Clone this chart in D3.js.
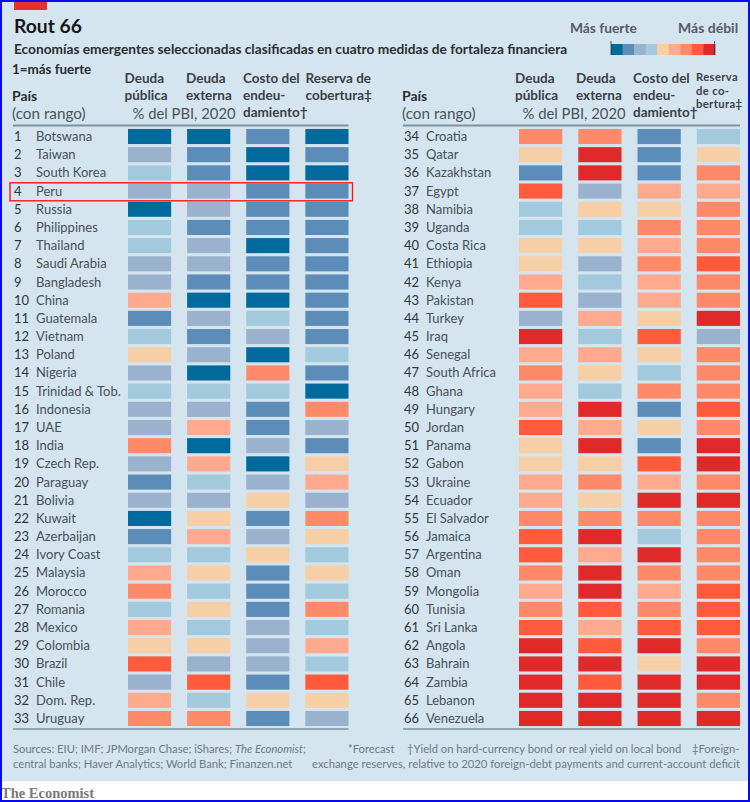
<!DOCTYPE html>
<html>
<head>
<meta charset="utf-8">
<script src="https://cdn.jsdelivr.net/npm/d3@7"></script>
<style>
  html, body { margin: 0; padding: 0; background: #fff; }
  svg { display: block; }
  text { font-family: Lato, "Open Sans", sans-serif; }
</style>
</head>
<body>
<svg id="chart" width="750" height="802"></svg>
<script>
const countriesLeft = ["Botswana","Taiwan","South Korea","Peru","Russia","Philippines","Thailand","Saudi Arabia","Bangladesh","China","Guatemala","Vietnam","Poland","Nigeria","Trinidad & Tob.","Indonesia","UAE","India","Czech Rep.","Paraguay","Bolivia","Kuwait","Azerbaijan","Ivory Coast","Malaysia","Morocco","Romania","Mexico","Colombia","Brazil","Chile","Dom. Rep.","Uruguay"];
const countriesRight = ["Croatia","Qatar","Kazakhstan","Egypt","Namibia","Uganda","Costa Rica","Ethiopia","Kenya","Pakistan","Turkey","Iraq","Senegal","South Africa","Ghana","Hungary","Jordan","Panama","Gabon","Ukraine","Ecuador","El Salvador","Jamaica","Argentina","Oman","Mongolia","Tunisia","Sri Lanka","Angola","Bahrain","Zambia","Lebanon","Venezuela"];

// score bands, 1 = strongest ... 9 = weakest
const deudaPublica = [1,3,4,3,1,4,4,3,3,6,2,4,5,3,4,3,3,7,3,2,3,1,2,4,6,7,4,6,5,8,3,6,7, 7,5,2,8,4,4,5,5,6,8,3,9,6,7,6,6,8,5,5,6,6,7,8,8,7,6,7,8,9,9,9,9,9];
const deudaExterna = [1,2,2,3,3,2,3,3,2,1,3,2,3,1,4,3,6,1,6,4,3,5,6,4,5,4,5,4,5,3,8,4,7, 7,9,9,3,5,4,5,3,4,3,6,4,6,5,4,9,6,9,5,7,5,7,9,6,9,9,8,6,8,9,8,9,9];
const costo = [2,1,1,2,2,2,1,2,2,1,4,3,1,7,4,2,2,3,1,3,5,2,3,5,2,2,2,3,3,3,2,5,2, 2,2,2,6,5,7,6,7,6,6,5,8,5,4,7,2,5,2,8,6,9,7,4,9,7,6,7,8,9,5,9,9,9];
const reserva = [1,2,1,2,2,2,2,2,2,2,2,2,4,2,1,7,3,2,5,6,3,7,5,4,5,4,7,4,6,4,8,5,3, 4,5,7,6,7,7,7,8,7,7,9,3,7,7,7,8,7,9,9,7,9,7,7,7,7,8,8,8,7,9,9,7,9];

const bandColors = ["#016a9c","#5b8db8","#9ab2cd","#a3c9dc","#f6cfa6","#ffa98f","#ff8a69","#fe5a3a","#e02c2c"];
const seriesValues = [deudaPublica, deudaExterna, costo, reserva];

const svg = d3.select("#chart");

// the source is a soft screenshot, so cells get a slight blur
svg.append("defs").append("filter").attr("id", "soft")
  .attr("x", "-5%").attr("y", "-5%").attr("width", "110%").attr("height", "110%")
  .append("feGaussianBlur").attr("stdDeviation", 0.5);

// page background, then the footer strip and frame
svg.append("rect").attr("width", 750).attr("height", 802).attr("fill", "#ffffff");
svg.append("rect").attr("width", 750).attr("height", 781).attr("fill", "#d5e5ef");
svg.append("rect").attr("x", 14).attr("y", 2).attr("width", 33).attr("height", 8).attr("fill", "#e8312f");

const text = (x, y, str, size, opts = {}) => svg.append("text")
  .attr("x", x).attr("y", y)
  .attr("font-size", size)
  .attr("font-weight", opts.weight || "normal")
  .attr("font-style", opts.style || "normal")
  .attr("text-anchor", opts.anchor || "start")
  .attr("fill", opts.fill || "#33393d")
  .text(str);

text(14, 33, "Rout 66", 19.3, { weight: "bold", fill: "#16181a" });
text(14, 54, "Economías emergentes seleccionadas clasificadas en cuatro medidas de fortaleza financiera", 13.7, { weight: "bold", fill: "#2a2e31" });
text(12, 74, "1=más fuerte", 13.4, { weight: "bold", fill: "#2a2e31" });

// legend
const legendX = d3.scaleBand().domain(d3.range(bandColors.length)).range([611, 715]);
svg.append("g").attr("filter", "url(#soft)")
  .selectAll("rect").data(bandColors).join("rect")
  .attr("x", (d, i) => legendX(i))
  .attr("y", 44).attr("width", legendX.bandwidth() + 0.5).attr("height", 11)
  .attr("fill", d => d);
svg.append("path").attr("d", "M611 41V55M714.5 41V55").attr("stroke", "#33393d").attr("stroke-width", 0.8);
text(570, 33, "Más fuerte", 13.8, { weight: "bold", fill: "#555b60" });
text(678, 33, "Más débil", 14, { weight: "bold", fill: "#555b60" });

const rowY = d3.scaleBand()
  .domain(d3.range(33))
  .range([127.5, 727.5])
  .paddingInner(0.17)
  .paddingOuter(0.08);

function panel(countries, offset, xLeft, colRange, rankX, nameX) {
  const colX = d3.scaleBand().domain(d3.range(4)).range(colRange).paddingInner(0.27);
  const g = svg.append("g");

  g.append("line").attr("x1", xLeft).attr("x2", colRange[1]).attr("y1", 125.5).attr("y2", 125.5)
    .attr("stroke", "#7f929f").attr("stroke-width", 2);
  g.append("line").attr("x1", xLeft).attr("x2", colRange[1]).attr("y1", 729).attr("y2", 729)
    .attr("stroke", "#7f929f").attr("stroke-width", 1.5);

  const cells = g.append("g").attr("filter", "url(#soft)");
  seriesValues.forEach((vals, c) => {
    cells.selectAll(null).data(countries).join("rect")
      .attr("x", colX(c))
      .attr("y", (d, i) => rowY(i))
      .attr("width", colX.bandwidth())
      .attr("height", rowY.bandwidth())
      .attr("fill", (d, i) => bandColors[vals[i + offset] - 1]);
  });

  g.selectAll(null).data(countries).join("text")
    .attr("x", rankX)
    .attr("y", (d, i) => rowY(i) + rowY.bandwidth() / 2 + 4.5)
    .attr("font-size", 13).attr("fill", "#2f3639")
    .text((d, i) => i + offset + 1);
  g.selectAll(null).data(countries).join("text")
    .attr("x", nameX)
    .attr("y", (d, i) => rowY(i) + rowY.bandwidth() / 2 + 4.5)
    .attr("font-size", 13).attr("fill", "#465055")
    .text(d => d);
}

panel(countriesLeft, 0, 13, [128, 348.5], 14, 36);
panel(countriesRight, 33, 403, [519, 740], 404, 426);

// column headers
const hdr = { weight: "bold", fill: "#3a4045" };
const headerLines = [
  [124.5, ["Deuda", "pública"]],
  [186, ["Deuda", "externa"]],
  [243, ["Costo del", "endeu-", "damiento†"]],
  [305.5, ["Reserva de", "cobertura‡"]],
  [515, ["Deuda", "pública"]],
  [576, ["Deuda", "externa"]],
  [633, ["Costo del", "endeu-", "damiento†"]]
];
headerLines.forEach(([x, lines]) => {
  lines.forEach((line, i) => text(x, 83 + i * 17, line, 13.5, hdr));
});
text(696, 81, "Reserva", 11.2, hdr).attr("letter-spacing", 0.4);
text(696, 94.5, "de co-", 11.2, hdr).attr("letter-spacing", 0.4);
text(696, 108, "bertura‡", 11.2, hdr).attr("letter-spacing", 0.4);

text(12, 101, "País", 14, { weight: "bold", fill: "#2a2e31" });
text(12, 119, "(con rango)", 15.3, { fill: "#4a5358" });
text(132.5, 119, "% del PBI, 2020", 14.8, { fill: "#4a5358" });
text(402, 101, "País", 14, { weight: "bold", fill: "#2a2e31" });
text(402, 119, "(con rango)", 15.3, { fill: "#4a5358" });
text(522.5, 119, "% del PBI, 2020", 14.8, { fill: "#4a5358" });

// highlight around Peru
svg.append("rect")
  .attr("x", 10).attr("y", 182.8).attr("width", 342.5).attr("height", 18)
  .attr("fill", "none").attr("stroke", "#fa141c").attr("stroke-width", 1.4);

// footnotes
const note = { fill: "#6b7a84" };
const s1 = text(13, 753, "Sources: EIU; IMF; JPMorgan Chase; iShares; ", 11.2, note);
s1.append("tspan").attr("font-style", "italic").text("The Economist");
s1.append("tspan").text(";");
text(13, 768, "central banks; Haver Analytics; World Bank; Finanzen.net", 11.2, note);
text(348, 753, "*Forecast", 11.2, note);
text(407, 753, "†Yield on hard-currency bond or real yield on local bond", 11.2, note);
text(692, 753, "‡Foreign-", 11.2, note);
text(740, 768, "exchange reserves, relative to 2020 foreign-debt payments and current-account deficit", 11.3, { fill: "#6b7a84", anchor: "end" });

svg.append("text").attr("x", 1).attr("y", 798)
  .attr("font-size", 14.5).attr("font-weight", "bold").attr("fill", "#7a7a7a")
  .style("font-family", '"Liberation Serif", serif')
  .text("The Economist");

// blue frame
svg.append("rect").attr("x", 1).attr("y", 1).attr("width", 748).attr("height", 800)
  .attr("fill", "none").attr("stroke", "#0a0af0").attr("stroke-width", 2);
</script>
</body>
</html>
